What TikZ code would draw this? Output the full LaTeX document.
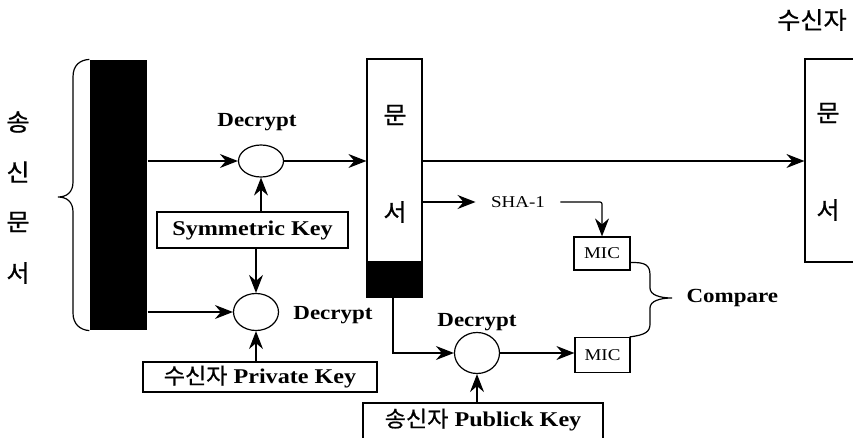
\documentclass[tikz,border=0pt]{standalone}
\usepackage{fontspec}
\setmainfont{Liberation Serif}[FakeStretch=1.15]
\newfontfamily\kr{Noto Sans CJK KR}[FakeStretch=1.05,FakeBold=0.8]
\usetikzlibrary{arrows.meta,shapes.geometric}

\tikzset{
  arr/.style={-{Stealth[length=18pt,width=14pt,inset=6pt]}},
  ell/.style={draw, ellipse, inner sep=0pt, minimum width=45pt},
  boxed/.style={draw, rectangle, inner sep=0pt},
  keybox/.style={boxed, font=\fontsize{21}{23}\selectfont\bfseries},
  lbl/.style={inner sep=0pt, font=\fontsize{20}{22}\selectfont\bfseries},
  small/.style={inner sep=0pt, font=\fontsize{16.5}{18}\selectfont},
  hang/.style={inner sep=0pt, font=\kr\fontsize{24}{26}\selectfont},
}
\newcommand{\boxkr}[1]{{\kr\mdseries\fontsize{22}{24}\selectfont #1}}

\begin{document}
\begin{tikzpicture}[x=1pt,y=-1pt,line width=1.2pt]
\useasboundingbox (0,0) rectangle (853,438);
\clip (0,0) rectangle (853,438);

% sender's document (solid bar) and its brace
\node[fill=black, inner sep=0pt, minimum width=57pt, minimum height=270pt] (bar) at (118.5,195) {};
\draw (bar.north west) .. controls (80,60) and (73,65) .. (73,77) -- (73,182)
      .. controls (73,192) and (67,197) .. (58,197)
      .. controls (67,197) and (73,202) .. (73,212) -- (73,313)
      .. controls (73,324) and (80,330) .. (bar.south west);
\node[hang] (s1) at (18,122) {송};
\node[hang] (s2) at (18,172) {신};
\node[hang] (s3) at (18,222) {문};
\node[hang] (s4) at (18,273) {서};

% decryption stages
\node[ell, minimum height=32pt] (d1) at (261,161) {};
\node[ell, minimum height=37pt] (d2) at (256,312) {};
\node[ell, minimum height=41pt] (d3) at (477,353) {};
\node[lbl] (l1) at (257,122) {Decrypt};
\node[lbl] (l2) at (333,315) {Decrypt};
\node[lbl] (l3) at (477,322) {Decrypt};

% keys
\node[keybox, minimum width=191pt, minimum height=36pt] (sym) at (252.5,230) {Symmetric Key};
\node[keybox, minimum width=234pt, minimum height=30pt] (priv) at (260,377) {\boxkr{수신자} Private Key};
\node[boxed, minimum width=240pt, minimum height=60pt] (pub) at (483,433) {};
\node[keybox, draw=none] (pubtext) at (483,420) {\boxkr{송신자} Publick Key};

% recovered document with its signature block
\node[boxed, minimum width=55pt, minimum height=238pt] (doc) at (394.5,178) {};
\node[fill=black, draw, inner sep=0pt, minimum width=55pt, minimum height=35pt, anchor=south] (seal) at (doc.south) {};
\node[hang] (m1) at (395,115) {문};
\node[hang] (m2) at (395,212) {서};

% receiver's document
\node[boxed, minimum width=75pt, minimum height=203pt] (rdoc) at (842.5,160.5) {};
\node[hang] (r1) at (828,113) {문};
\node[hang] (r2) at (828,210) {서};
\node[hang] (rx) at (812,20) {수신자};

% hashing and comparison
\node[small, inner xsep=15pt] (sha) at (518,202) {SHA-1};
\node[boxed, small, minimum width=56pt, minimum height=33pt] (mic1) at (602,253.5) {MIC};
\node[boxed, small, minimum width=55pt, minimum height=35pt] (mic2) at (602.5,355) {MIC};
\node[lbl, anchor=west] (cmp) at (686,298) {Compare};
\draw ([yshift=8pt]mic1.south east) .. controls (645,262) and (650,265) .. (650,275) -- (650,288)
      .. controls (650,295) and (660,298) .. (672,298)
      .. controls (660,298) and (650,301) .. (650,308) -- (650,324)
      .. controls (650,332) and (645,335) .. ([xshift=-1pt]mic2.north east);

% connectors
\draw[arr] (bar.east |- d1) -- (d1.west);
\draw[arr] (d1.east) -- (doc.west |- d1);
\draw[arr] (doc.east |- d1) -- (rdoc.west |- d1);
\draw[arr] (doc.east |- sha) -- (sha.west);
\draw[arr, rounded corners=2pt] (sha.east) -| (mic1.north);
\draw[arr] (sym.north -| d1.south) -- (d1.south);
\draw[arr] (sym.south -| d2.north) -- (d2.north);
\draw[arr] (bar.east |- d2) -- (d2.west);
\draw[arr] (priv.north -| d2.south) -- (d2.south);
\draw[arr] ([xshift=-1.5pt]seal.south) |- (d3.west);
\draw[arr] (pub.north -| d3.south) -- (d3.south);
\draw[arr] (d3.east) -- (mic2.west |- d3);
\end{tikzpicture}
\end{document}
